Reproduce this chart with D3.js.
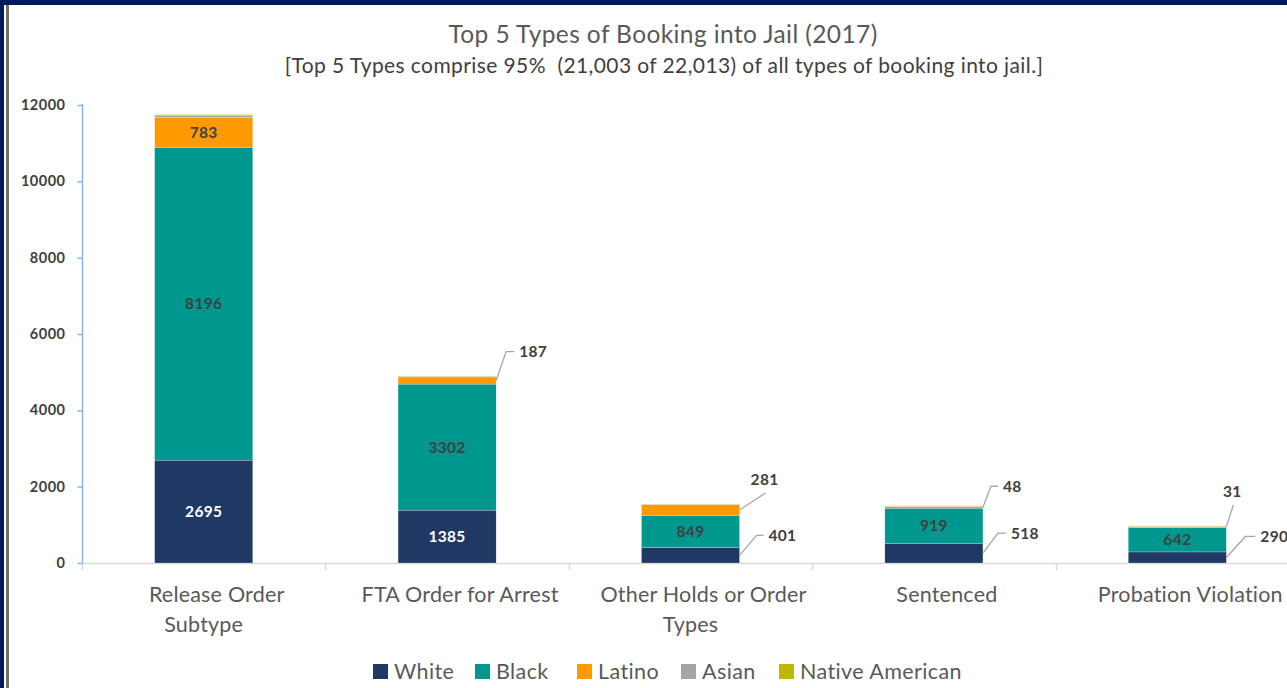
<!DOCTYPE html>
<html>
<head>
<meta charset="utf-8">
<script src="https://cdn.jsdelivr.net/npm/d3@7"></script>
<style>
  html, body { margin: 0; padding: 0; background: #fff; overflow: hidden; }
  svg { display: block; font-family: Lato, "Open Sans", sans-serif; }
</style>
</head>
<body>
<svg id="chart" width="1287" height="688"></svg>
<script>
// data
var categories = ["Release Order Subtype", "FTA Order for Arrest", "Other Holds or Order Types", "Sentenced", "Probation Violation"];
var categoryLines = [["Release Order", "Subtype"], ["FTA Order for Arrest"], ["Other Holds or Order", "Types"], ["Sentenced"], ["Probation Violation"]];
var seriesNames = ["White", "Black", "Latino", "Asian", "Native American"];
var white    = [2695, 1385, 401, 518, 290];
var black    = [8196, 3302, 849, 919, 642];
var latino   = [783, 187, 281, 48, 31];
var asian    = [60, 20, 10, 8, 6];
var native   = [15, 6, 4, 3, 3];
var yTicks   = [0, 2000, 4000, 6000, 8000, 10000, 12000];
var titleText = "Top 5 Types of Booking into Jail (2017)";
var subtitleText = "[Top 5 Types comprise 95%  (21,003 of 22,013) of all types of booking into jail.]";

var colors = ["#1f3864", "#00978f", "#ff9900", "#a5a5a5", "#bfb800"];

// how each value label is placed: "in" = centred in segment, otherwise a leader line
var labelMode = {
  "0|0": "inW", "0|1": "in", "0|2": "in",
  "1|0": "inW", "1|1": "in", "1|2": { dx: 10, dy: -29, hx: 8 },
  "2|0": { dx: 17, dy: -20, hx: 7 }, "2|1": "in", "2|2": { dx: 26, dy: -17, hx: 0, up: true },
  "3|0": { dx: 15, dy: -20, hx: 8 }, "3|1": "in", "3|2": { dx: 8, dy: -21, hx: 7 },
  "4|0": { dx: 19, dy: -21, hx: 10 }, "4|1": "in", "4|2": { dx: 7, dy: -22, hx: 0, up: true }
};

var svg = d3.select("#chart");

// frame
svg.append("rect").attr("x", 0).attr("y", 0).attr("width", 1287).attr("height", 5).attr("fill", "#001a5c");
svg.append("rect").attr("x", 0).attr("y", 0).attr("width", 4).attr("height", 688).attr("fill", "#001a5c");
svg.append("rect").attr("x", 6).attr("y", 5).attr("width", 3).attr("height", 683).attr("fill", "#707070");

svg.append("text").attr("x", 663).attr("y", 43).attr("text-anchor", "middle")
  .attr("font-size", 24.5).attr("letter-spacing", 0.4).attr("fill", "#595959").text(titleText);
svg.append("text").attr("x", 664).attr("y", 73).attr("text-anchor", "middle")
  .attr("font-size", 21).attr("letter-spacing", 0.4).attr("fill", "#404040")
  .style("white-space", "pre").text(subtitleText);

var x = d3.scaleBand().domain(categories).range([82, 1299]).paddingInner(0.597).paddingOuter(0.2985);
var y = d3.scaleLinear().domain([0, 12000]).range([563, 105]);

var rows = categories.map(function (c, i) {
  return { cat: c, White: white[i], Black: black[i], Latino: latino[i], Asian: asian[i], "Native American": native[i] };
});
var stacked = d3.stack().keys(seriesNames)(rows);

// x baseline and category separators
svg.append("line").attr("x1", 82).attr("x2", 1299).attr("y1", 563.5).attr("y2", 563.5)
  .attr("stroke", "#d9d9d9").attr("stroke-width", 1.5);
var step = x.step();
d3.range(categories.length + 1).forEach(function (i) {
  var xx = Math.round(82 + i * step) + 0.5;
  svg.append("line").attr("x1", xx).attr("x2", xx).attr("y1", 563).attr("y2", 570)
    .attr("stroke", "#d9d9d9").attr("stroke-width", 1.5);
});

// y axis
var yAxis = svg.append("g").attr("transform", "translate(82.5,0)")
  .call(d3.axisLeft(y).tickValues(yTicks).tickSize(5).tickPadding(12).tickFormat(d3.format("d")));
yAxis.select(".domain").attr("stroke", "#8eb4e3").attr("stroke-width", 1.5).attr("d", "M0,104V563");
yAxis.selectAll(".tick line").attr("stroke", "#8eb4e3").attr("stroke-width", 1.5);
yAxis.selectAll(".tick text").attr("fill", "#404040").attr("font-size", 14.5).attr("font-weight", "bold")
  .attr("letter-spacing", 0.5).attr("font-family", "Lato, sans-serif");

// bars
var layer = svg.selectAll(".layer").data(stacked).enter().append("g")
  .attr("fill", function (d, i) { return colors[i]; });
layer.selectAll("rect").data(function (d) { return d; }).enter().append("rect")
  .attr("x", function (d) { return x(d.data.cat); })
  .attr("y", function (d) { return y(d[1]); })
  .attr("width", x.bandwidth())
  .attr("height", function (d) { return y(d[0]) - y(d[1]); })
  .attr("stroke", "#ffffff").attr("stroke-width", 0.4).attr("stroke-opacity", 0.6);

// value labels
stacked.forEach(function (s, si) {
  s.forEach(function (d, ci) {
    var mode = labelMode[ci + "|" + si];
    if (!mode) return;
    var v = d[1] - d[0];
    var midY = (y(d[0]) + y(d[1])) / 2;
    var lbl;
    if (mode === "in" || mode === "inW") {
      lbl = svg.append("text").attr("x", x(d.data.cat) + x.bandwidth() / 2).attr("y", midY)
        .attr("text-anchor", "middle")
        .attr("fill", mode === "inW" ? "#ffffff" : "#404040");
    } else {
      var x0 = x(d.data.cat) + x.bandwidth();
      var x1 = x0 + mode.dx, y1 = midY + mode.dy;
      var pts = [[x0, midY], [x1, y1], [x1 + mode.hx, y1]];
      svg.append("path").attr("d", d3.line()(pts)).attr("fill", "none")
        .attr("stroke", "#a6a6a6").attr("stroke-width", 1.3);
      if (mode.up) {
        lbl = svg.append("text").attr("x", x1 - 1).attr("y", y1 - 13).attr("text-anchor", "middle");
      } else {
        lbl = svg.append("text").attr("x", x1 + mode.hx + 5).attr("y", y1);
      }
      lbl.attr("fill", "#404040");
    }
    lbl.attr("dy", "0.35em").attr("font-size", 15.5).attr("font-weight", "bold")
      .attr("letter-spacing", 0.3).text(v);
  });
});

// category labels (first line sits a little right of the band centre, as in the source)
categories.forEach(function (c, i) {
  var cx = x(c) + x.bandwidth() / 2;
  var t = svg.append("text").attr("y", 602)
    .attr("text-anchor", "middle").attr("font-size", 21.5).attr("letter-spacing", 0.2).attr("fill", "#595959");
  categoryLines[i].forEach(function (ln, k) {
    t.append("tspan").attr("x", k === 0 ? cx + 13 : cx).attr("dy", k === 0 ? 0 : 30).text(ln);
  });
});

// legend
var legendX = [373, 475, 577, 681, 779];
seriesNames.forEach(function (n, i) {
  var g = svg.append("g").attr("transform", "translate(" + legendX[i] + ",664)");
  g.append("rect").attr("width", 15).attr("height", 15).attr("fill", colors[i]);
  g.append("text").attr("x", 21).attr("y", 15).attr("font-size", 21.5).attr("letter-spacing", 0.4)
    .attr("fill", "#595959").text(n);
});
</script>
</body>
</html>
